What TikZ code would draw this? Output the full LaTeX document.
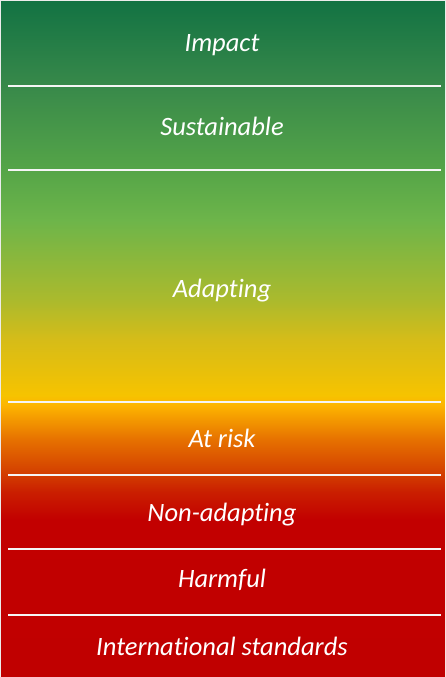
\documentclass[tikz,border=0pt]{standalone}
\usepackage{fontspec}
\setmainfont{Carlito}[Ligatures=NoCommon]
\definecolor{cA}{HTML}{C00000}
\definecolor{cB}{HTML}{C20000}
\definecolor{cC}{HTML}{CA1E00}
\definecolor{cD}{HTML}{D23C00}
\definecolor{cE}{HTML}{E67000}
\definecolor{cF}{HTML}{FDB500}
\definecolor{cG}{HTML}{F6C300}
\definecolor{cH}{HTML}{D6BC18}
\definecolor{cI}{HTML}{ABBA2D}
\definecolor{cJ}{HTML}{6DB54A}
\definecolor{cK}{HTML}{55A548}
\definecolor{cL}{HTML}{38894A}
\definecolor{cM}{HTML}{127243}
\pgfdeclareverticalshading{scale}{100bp}{
  color(0bp)=(cA); color(25bp)=(cA); color(36.6bp)=(cB); color(38.66bp)=(cC); color(39.92bp)=(cD);
  color(42.5bp)=(cE); color(45.09bp)=(cF); color(45.83bp)=(cG); color(49.89bp)=(cH);
  color(52.84bp)=(cI); color(58.75bp)=(cJ); color(62.45bp)=(cK); color(68.65bp)=(cL);
  color(75bp)=(cM); color(100bp)=(cM)}
\tikzset{
  lbl/.style={text=white, font=\fontsize{26.5}{30}\selectfont\itshape, inner sep=0pt, anchor=base},
  divider/.style={draw=white!92!gray, line width=1.3pt}
}
\begin{document}
\begin{tikzpicture}[x=1pt,y=-1pt]
\useasboundingbox (0,0) rectangle (445,677);
\shade[shading=scale] (0,0) rectangle (445,677);
\draw[white!85!gray, line width=1pt] (0.5,677) -- (0.5,0.5) -- (445,0.5);
\foreach \y in {86,170,402,475,549,615}
  \draw[divider] (8,\y) -- (441,\y);
\node[lbl] (impact) at (222,52) {Impact};
\node[lbl] (sust) at (222,135.5) {Sustainable};
\node[lbl] (adapt) at (222,297.5) {Adapting};
\node[lbl] (risk) at (222,447) {At risk};
\node[lbl] (nonadapt) at (222,521.5) {Non-adapting};
\node[lbl] (harm) at (222,587.5) {Harmful};
\node[lbl] (intl) at (222,655) {International standards};
\end{tikzpicture}
\end{document}
